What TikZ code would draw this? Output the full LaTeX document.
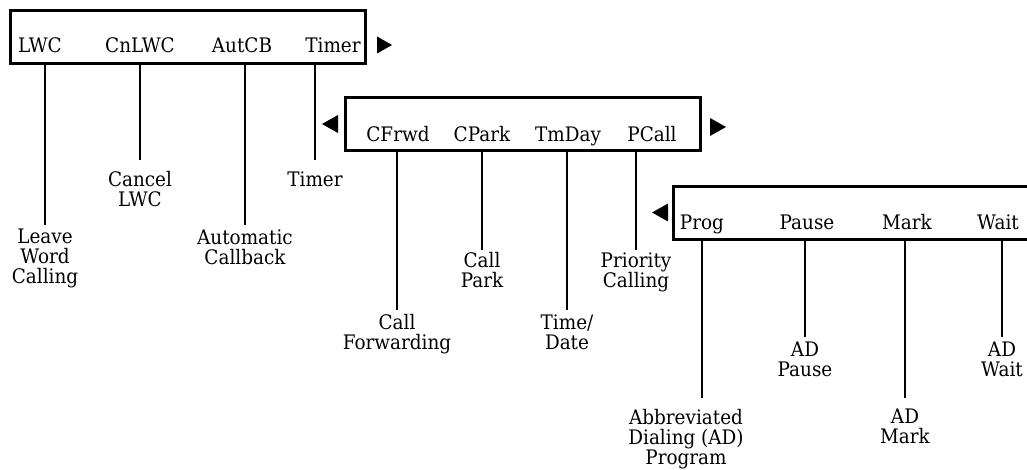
\documentclass[tikz,border=0pt]{standalone}
\usepackage{fontspec}
\setmainfont{DejaVu Serif}[FakeStretch=0.92]
\tikzset{
  menubar/.style={draw, line width=1.5pt, minimum width=177.5pt, minimum height=26.5pt, inner sep=0pt},
  softkey/.style={anchor=base, inner sep=0pt, font=\fontsize{10}{10}\selectfont},
  feature/.style={anchor=north, inner sep=0pt, align=center, font=\fontsize{10}{10}\selectfont},
  lead/.style={line width=1pt, shorten >=2pt},
}
\begin{document}
\begin{tikzpicture}[x=0.5pt,y=-0.5pt]
  \useasboundingbox (0,0) rectangle (1027,470);

  % First display line
  \node[menubar] (bar1) at (188.3,36.8) {};
  \node[softkey] (lwc) at (40,53) {LWC};
  \node[softkey] (cnlwc) at (140,53) {CnLWC};
  \node[softkey] (autcb) at (242,53) {AutCB};
  \node[softkey] (timerkey) at (333,53) {Timer};
  \fill (377,36.5) -- ++(15,8.5) -- ++(-15,8.5) -- cycle;

  % Features of the first line
  \node[feature] (leave) at (45,229) {Leave\\Word\\Calling};
  \node[feature] (cancel) at (140,171) {Cancel\\LWC};
  \node[feature] (autocb) at (245,229) {Automatic\\Callback};
  \node[feature] (timer) at (315,171) {Timer};
  \draw[lead] (leave.north |- bar1.south) -- (leave.north);
  \draw[lead, shorten >=5.5pt] (cancel.north |- bar1.south) -- (cancel.north);
  \draw[lead] (autocb.north |- bar1.south) -- (autocb.north);
  \draw[lead, shorten >=5.5pt] (timer.north |- bar1.south) -- (timer.north);

  % Second display line
  \node[menubar] (bar2) at (522.7,124.2) {};
  \node[softkey] (cfrwd) at (398,142) {CFrwd};
  \node[softkey] (cpark) at (482,142) {CPark};
  \node[softkey] (tmday) at (568,142) {TmDay};
  \node[softkey] (pcall) at (652,142) {PCall};
  \fill (338,115) -- ++(-16,9) -- ++(16,9) -- cycle;
  \fill (710,118) -- ++(16,9) -- ++(-16,9) -- cycle;

  % Features of the second line
  \node[feature] (callfwd) at (397,314) {Call\\Forwarding};
  \node[feature] (callpark) at (482,252) {Call\\Park};
  \node[feature] (timedate) at (567,314) {Time/\\Date};
  \node[feature] (priority) at (636,252) {Priority\\Calling};
  \draw[lead] (callfwd.north |- bar2.south) -- (callfwd.north);
  \draw[lead, shorten >=1pt] (callpark.north |- bar2.south) -- (callpark.north);
  \draw[lead] (timedate.north |- bar2.south) -- (timedate.north);
  \draw[lead, shorten >=1pt] (priority.north |- bar2.south) -- (priority.north);

  % Third display line (runs off the right edge)
  \node[menubar, minimum width=180pt, minimum height=26.6pt] (bar3) at (853.3,213.3) {};
  \node[softkey] (prog) at (702,230) {Prog};
  \node[softkey] (pause) at (807,230) {Pause};
  \node[softkey] (mark) at (907,230) {Mark};
  \node[softkey] (wait) at (998,230) {Wait};
  \fill (668,203.5) -- ++(-16,9) -- ++(16,9) -- cycle;

  % Features of the third line
  \node[feature] (adprog) at (686,409) {Abbreviated\\Dialing (AD)\\Program};
  \node[feature] (adpause) at (805,342) {AD\\Pause};
  \node[feature] (admark) at (905,409) {AD\\Mark};
  \node[feature] (adwait) at (1002,342) {AD\\Wait};
  \draw[lead, shorten >=5.5pt] (prog |- bar3.south) -- (prog |- adprog.north);
  \draw[lead, shorten >=2.5pt] (adpause.north |- bar3.south) -- (adpause.north);
  \draw[lead, shorten >=5.5pt] (admark.north |- bar3.south) -- (admark.north);
  \draw[lead, shorten >=2.5pt] (adwait.north |- bar3.south) -- (adwait.north);
\end{tikzpicture}
\end{document}
